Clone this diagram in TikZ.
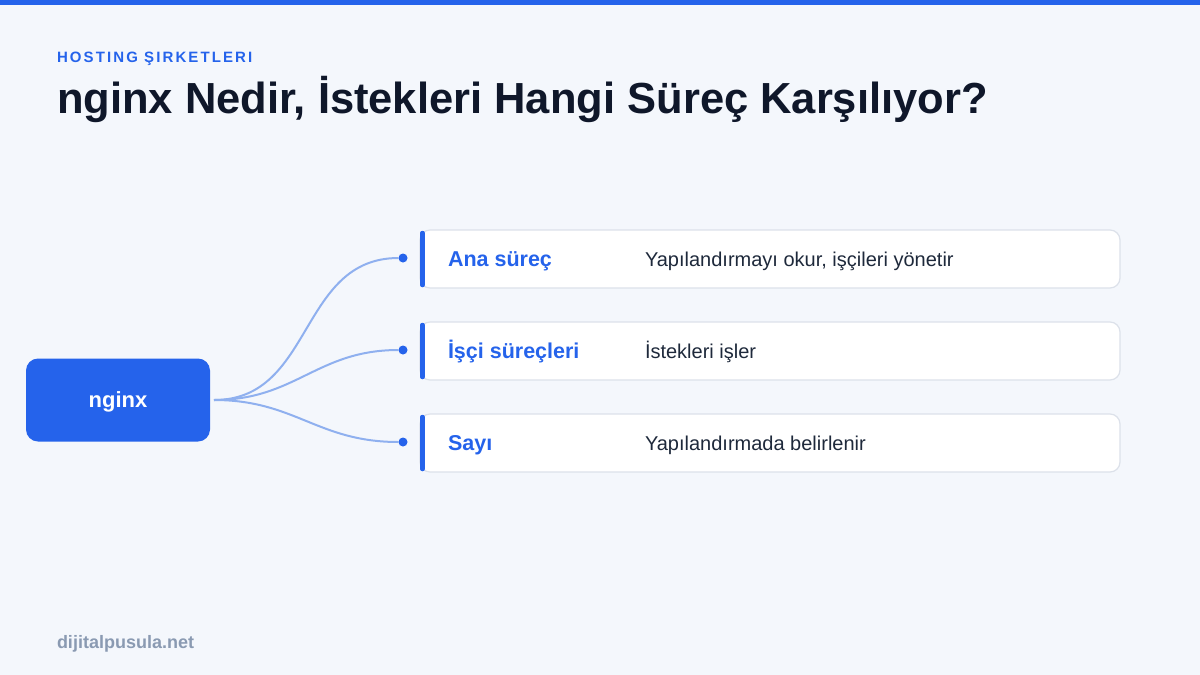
\documentclass[tikz,border=0pt]{standalone}
\usepackage{fontspec}
\setmainfont{Liberation Sans}
\newfontfamily\kickerfont[LetterSpace=14]{Liberation Sans}
\usetikzlibrary{positioning}

\definecolor{pagebg}{HTML}{F4F7FC}
\definecolor{brand}{HTML}{2563EB}
\definecolor{linkblue}{HTML}{8FB0EF}
\definecolor{cardline}{HTML}{DCE1EA}
\definecolor{inkdark}{HTML}{0F172A}
\definecolor{inktext}{HTML}{1E293B}
\definecolor{footgray}{HTML}{8A9AB2}

\begin{document}
\begin{tikzpicture}[x=1pt, y=-1pt,
    every node/.style={inner sep=0pt, outer sep=0pt},
    hubbox/.style={fill=brand, rounded corners=12pt, minimum width=184pt, minimum height=83pt,
      text=white, text depth=0pt, font=\fontsize{22}{26}\selectfont\bfseries},
    cardbox/.style={draw=cardline, line width=1.2pt, fill=white, rounded corners=10pt,
      minimum width=700pt, minimum height=58pt, anchor=west},
    cardbar/.style={brand, line width=4.5pt, line cap=round},
    itemname/.style={anchor=base west, text=brand, font=\fontsize{21.5}{24}\selectfont\bfseries},
    itemdesc/.style={anchor=base west, text=inktext, font=\fontsize{20}{24}\selectfont},
    dot/.style={circle, fill=brand, minimum size=9pt},
    link/.style={linkblue, line width=2pt}]

        % Page and top strip
        \fill[pagebg] (0,0) rectangle (1200,675);
        \useasboundingbox (0,0) rectangle (1200,675);
        \fill[brand] (0,0) rectangle (1200,5);

        % Heading
        \node[anchor=base west, text=brand, font=\kickerfont\fontsize{15}{18}\selectfont\bfseries] (kicker) at (57,62) {HOSTING ŞIRKETLERI};
        \node[anchor=base west, text=inkdark, font=\fontsize{43.5}{48}\selectfont\bfseries] (title) at (57,113) {nginx Nedir, İstekleri Hangi Süreç Karşılıyor?};

        % Hub and cards
        \node[hubbox] (hub) at (118,400) {nginx};
        \node[cardbox] (card1) at (420,259) {};
        \node[cardbox] (card2) at (420,351) {};
        \node[cardbox] (card3) at (420,443) {};
        \draw[cardbar] ([xshift=2.5pt,yshift=-3pt]card1.north west) -- ([xshift=2.5pt,yshift=3pt]card1.south west);
        \draw[cardbar] ([xshift=2.5pt,yshift=-3pt]card2.north west) -- ([xshift=2.5pt,yshift=3pt]card2.south west);
        \draw[cardbar] ([xshift=2.5pt,yshift=-3pt]card3.north west) -- ([xshift=2.5pt,yshift=3pt]card3.south west);

        % Card texts
        \node[itemname] (name1) at (448,266) {Ana süreç};
        \node[itemdesc] (desc1) at (645,266) {Yapılandırmayı okur, işçileri yönetir};
        \node[itemname] (name2) at (448,358) {İşçi süreçleri};
        \node[itemdesc] (desc2) at (645,358) {İstekleri işler};
        \node[itemname] (name3) at (448,450) {Sayı};
        \node[itemdesc] (desc3) at (645,450) {Yapılandırmada belirlenir};

        % Dots and links
        \coordinate (src) at ([xshift=4pt]hub.east);
        \node[dot] (dot1) at (403,258) {};
        \node[dot] (dot2) at (403,350) {};
        \node[dot] (dot3) at (403,442) {};
        \draw[link] (src) to[out=0, in=180, looseness=1.1] (dot1);
        \draw[link] (src) to[out=0, in=180, looseness=1.1] (dot2);
        \draw[link] (src) to[out=0, in=180, looseness=1.1] (dot3);

        % Footer
        \node[anchor=base west, text=footgray, font=\fontsize{18}{22}\selectfont\bfseries] (site) at (57,648) {dijitalpusula.net};
      \end{tikzpicture}
\end{document}
